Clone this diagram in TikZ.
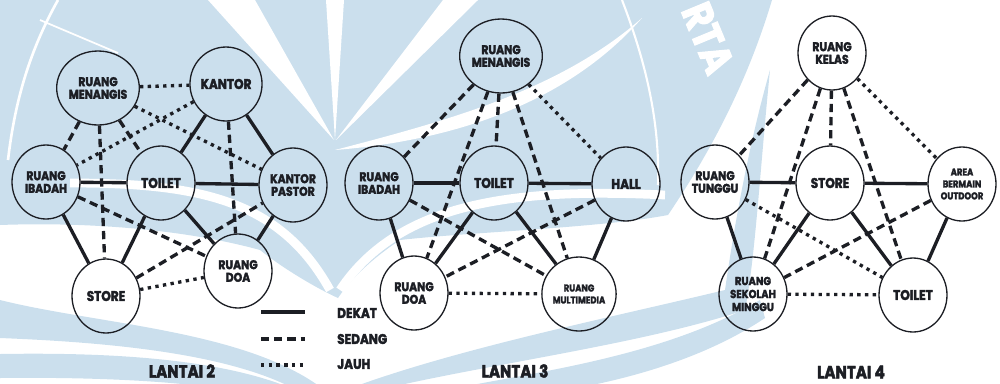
\documentclass[tikz,border=0pt]{standalone}
\usepackage{fontspec}
\setmainfont{Poppins}[FakeStretch=0.86, BoldFeatures={FakeBold=2.5}]
\usetikzlibrary{shapes.geometric}

\definecolor{ink}{RGB}{28,30,36}
\definecolor{wmblue}{RGB}{203,223,237}

\begin{document}
\begin{tikzpicture}[x=0.02cm, y=-0.02cm,
	room/.style={ellipse, draw=ink, line width=0.75pt, minimum width=1.36cm, minimum height=1.48cm,
		inner sep=0pt, align=center, text=ink, font=\bfseries\fontsize{8}{9}\selectfont},
	two/.style={font=\bfseries\fontsize{7.2}{7.2}\selectfont},
	three/.style={font=\bfseries\fontsize{5.6}{6.8}\selectfont},
	dekat/.style={draw=ink, line width=1.9pt},
	sedang/.style={draw=ink, line width=1.9pt, dash pattern=on 4.7pt off 2.8pt},
	jauh/.style={draw=ink, line width=1.9pt, dash pattern=on 1.9pt off 2.5pt},
	legend/.style={text=ink, anchor=west, font=\bfseries\fontsize{8}{8}\selectfont},
	title/.style={text=ink, font=\bfseries\fontsize{10}{10}\selectfont},
	]

	\useasboundingbox (0,0) rectangle (1000,383);

	% watermark
	\begin{scope}
	\clip (0,0) rectangle (1000,383);
	\fill[wmblue] (0,0) -- (772,0) .. controls (745,90) and (705,160) .. (668,215)
		.. controls (600,228) and (470,232) .. (400,240) .. controls (370,260) and (350,280) .. (338,298)
		.. controls (320,290) and (285,270) .. (260,250) .. controls (180,228) and (80,222) .. (0,225) -- cycle;
	\fill[wmblue] (340,392) .. controls (450,350) and (600,320) .. (725,290)
		.. controls (735,220) and (750,140) .. (770,70)
		.. controls (760,170) and (755,260) .. (745,310)
		.. controls (640,345) and (480,365) .. (370,392) -- cycle; % right page
	\fill[wmblue] (400,400) .. controls (500,375) and (650,365) .. (760,300)
		-- (765,318) .. controls (680,375) and (560,395) .. (480,400) -- cycle;
	\fill[wmblue] (0,300) .. controls (100,325) and (250,330) .. (327,392)
		-- (300,392) .. controls (230,352) and (100,342) .. (0,338) -- cycle; % left pages
	\fill[wmblue] (0,354) .. controls (120,352) and (230,360) .. (300,392)
		-- (240,392) .. controls (180,380) and (80,377) .. (0,378) -- cycle;
	\fill[white] (208,0) -- (255,0) -- (334,140) -- cycle; % rays
	\fill[white] (326,0) -- (344,0) -- (335,140) -- cycle;
	\fill[white] (443,0) -- (478,0) -- (336,140) -- cycle;
	\draw[white, line width=1pt] (40,20) -- (118,53);
	\draw[white, line width=1.5pt] (58,0) .. controls (30,50) and (15,100) .. (8,160);
	\draw[white, line width=1.2pt] (622,0) .. controls (645,60) and (660,120) .. (658,185);
	\fill[white] (335,150) .. controls (450,120) and (560,90) .. (642,18)
		.. controls (570,100) and (460,140) .. (335,150) -- cycle;
	\draw[white, line width=5pt] (330,290) .. controls (280,200) and (200,183) .. (70,183);
	\draw[white, line width=5pt] (340,290) .. controls (400,200) and (520,188) .. (665,195);
	\node[rotate=-67.5, text=white, font=\bfseries\fontsize{24}{24}\selectfont] (rta) at (708,38) {RTA};
	\end{scope}

	% lantai 2
	\node[room, two] (menangis2) at (98,88) {RUANG\\MENANGIS};
	\node[room] (kantor2) at (226,84) {KANTOR};
	\node[room, two] (ibadah2) at (46,182) {RUANG\\IBADAH};
	\node[room] (toilet2) at (161,183) {TOILET};
	\node[room, two] (pastor2) at (293,185) {KANTOR\\PASTOR};
	\node[room, two] (doa2) at (238,271) {RUANG\\DOA};
	\node[room] (store2) at (106,296) {STORE};

	\draw[dekat] (ibadah2) -- (toilet2);
	\draw[dekat] (toilet2) -- (pastor2);
	\draw[dekat] (kantor2) -- (toilet2);
	\draw[dekat] (kantor2) -- (pastor2);
	\draw[dekat] (ibadah2) -- (store2);
	\draw[dekat] (toilet2) -- (store2);
	\draw[dekat] (toilet2) -- (doa2);
	\draw[dekat] (pastor2) -- (doa2);
	\draw[sedang] (menangis2) -- (ibadah2);
	\draw[sedang] (menangis2) -- (toilet2);
	\draw[sedang] (menangis2) -- (store2);
	\draw[sedang] (kantor2) -- (doa2);
	\draw[sedang] (ibadah2) -- (doa2);
	\draw[sedang] (store2) -- (pastor2);
	\draw[jauh] (menangis2) -- (kantor2);
	\draw[jauh] (menangis2) -- (pastor2);
	\draw[jauh] (kantor2) -- (ibadah2);
	\draw[jauh] (store2) -- (doa2);

	% lantai 3
	\node[room, two] (menangis3) at (501,56) {RUANG\\MENANGIS};
	\node[room, two] (ibadah3) at (379,183) {RUANG\\IBADAH};
	\node[room] (toilet3) at (494,183) {TOILET};
	\node[room] (hall3) at (626,184) {HALL};
	\node[room, two] (doa3) at (414,293) {RUANG\\DOA};
	\node[room, three] (multi3) at (579,294) {RUANG\\MULTIMEDIA};

	\draw[dekat] (ibadah3) -- (toilet3);
	\draw[dekat] (toilet3) -- (hall3);
	\draw[dekat] (ibadah3) -- (doa3);
	\draw[dekat] (toilet3) -- (doa3);
	\draw[dekat] (toilet3) -- (multi3);
	\draw[dekat] (hall3) -- (multi3);
	\draw[sedang] (menangis3) -- (ibadah3);
	\draw[sedang] (menangis3) -- (doa3);
	\draw[sedang] (menangis3) -- (toilet3);
	\draw[sedang] (menangis3) -- (multi3);
	\draw[sedang] (ibadah3) -- (multi3);
	\draw[sedang] (hall3) -- (doa3);
	\draw[jauh] (menangis3) -- (hall3);
	\draw[jauh] (doa3) -- (multi3);

	% lantai 4
	\node[room, two] (kelas4) at (832,53) {RUANG\\KELAS};
	\node[room, two] (tunggu4) at (715,182) {RUANG\\TUNGGU};
	\node[room] (store4) at (830,183) {STORE};
	\node[room, three] (area4) at (962,184) {AREA\\BERMAIN\\OUTDOOR};
	\node[room, two, font=\bfseries\fontsize{6.6}{7.4}\selectfont] (sekolah4) at (753,294) {RUANG\\SEKOLAH\\MINGGU};
	\node[room] (toilet4) at (913,295) {TOILET};

	\draw[dekat] (tunggu4) -- (store4);
	\draw[dekat] (store4) -- (area4);
	\draw[dekat] (tunggu4) -- (sekolah4);
	\draw[dekat] (store4) -- (sekolah4);
	\draw[dekat] (store4) -- (toilet4);
	\draw[dekat] (area4) -- (toilet4);
	\draw[sedang] (kelas4) -- (tunggu4);
	\draw[sedang] (kelas4) -- (sekolah4);
	\draw[sedang] (kelas4) -- (store4);
	\draw[sedang] (kelas4) -- (toilet4);
	\draw[sedang] (area4) -- (sekolah4);
	\draw[jauh] (kelas4) -- (area4);
	\draw[jauh] (tunggu4) -- (toilet4);
	\draw[jauh] (sekolah4) -- (toilet4);

	% legend
	\coordinate (dekat-a) at (261,312);
	\coordinate (dekat-b) at (305,312);
	\coordinate (sedang-a) at (261,339);
	\coordinate (sedang-b) at (305,339);
	\coordinate (jauh-a) at (261,365);
	\coordinate (jauh-b) at (305,365);
	\draw[dekat] (dekat-a) -- (dekat-b);
	\draw[sedang] (sedang-a) -- (sedang-b);
	\draw[jauh] (jauh-a) -- (jauh-b);
	\node[legend] (dekat-label) at (331,313) {DEKAT};
	\node[legend] (sedang-label) at (331,339) {SEDANG};
	\node[legend] (jauh-label) at (331,364) {JAUH};

	\node[title] (lantai2) at (182,371) {LANTAI 2};
	\node[title] (lantai3) at (515,371) {LANTAI 3};
	\node[title] (lantai4) at (851,372) {LANTAI 4};

\end{tikzpicture}
\end{document}
